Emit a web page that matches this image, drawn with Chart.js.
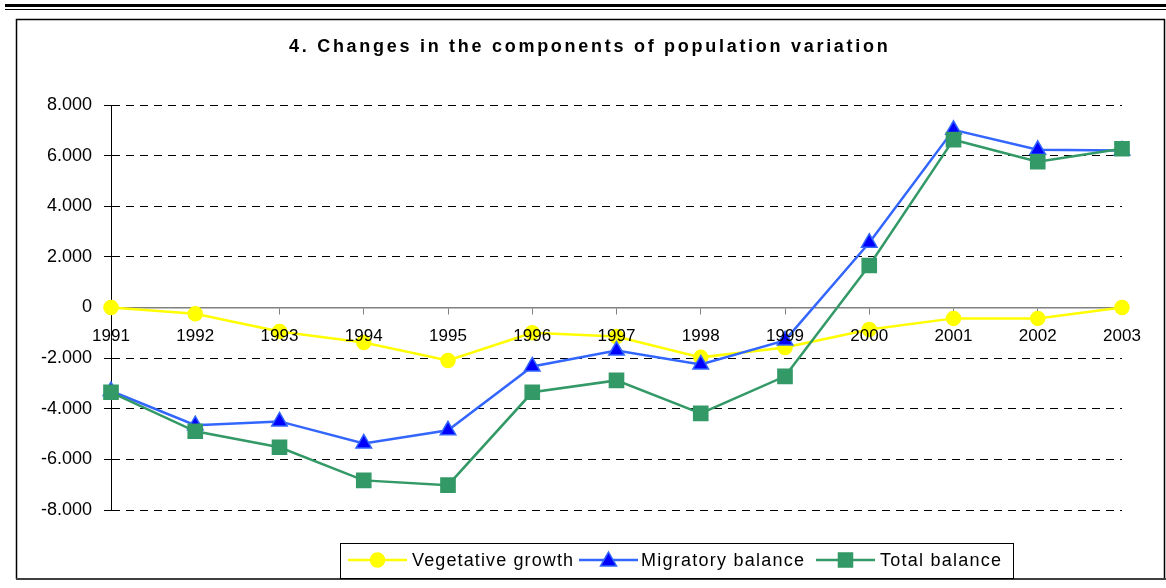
<!DOCTYPE html>
<html lang="en">
  <head>
    <meta charset="UTF-8" />
    <title>Changes in the components of population variation</title>
    <script src="https://cdn.jsdelivr.net/npm/chart.js@4.4.0/dist/chart.umd.min.js"></script>
    <style>
      html, body { margin: 0; padding: 0; background: #fff; }
      #wrap { width: 1166px; height: 588px; }
    </style>
  </head>
  <body>
    <div id="wrap"><canvas id="chart" width="1166" height="588"></canvas></div>

    <script>
      // data
      const years = ["1991", "1992", "1993", "1994", "1995", "1996", "1997", "1998", "1999", "2000", "2001", "2002", "2003"];
      const vegetativeGrowth = [0, -250, -950, -1380, -2090, -1000, -1150, -1970, -1580, -870, -430, -430, 0];
      const migratoryBalance = [-3300, -4650, -4500, -5370, -4850, -2330, -1700, -2250, -1300, 2560, 7020, 6230, 6200];
      const totalBalance = [-3350, -4890, -5520, -6830, -7020, -3350, -2880, -4180, -2720, 1660, 6630, 5760, 6270];
      const yTicks = [-8000, -6000, -4000, -2000, 0, 2000, 4000, 6000, 8000];

      const titleText = "4. Changes in the components of population variation";
      const FONT = '"Liberation Sans", Arial, sans-serif';

      const seriesStyle = [
        { label: "Vegetative growth", line: "#FFFF00", fill: "#FFFF00", shape: "circle" },
        { label: "Migratory balance", line: "#3366FF", fill: "#0000FF", shape: "triangle" },
        { label: "Total balance", line: "#339966", fill: "#339966", shape: "rect" },
      ];

      // format like 8.000 / -2.000
      function fmt(v) {
        if (v === 0) return "0";
        const s = Math.abs(v).toString().replace(/\B(?=(\d{3})+(?!\d))/g, ".");
        return (v < 0 ? "-" : "") + s;
      }

      function drawMarker(ctx, shape, x, y, fill, stroke) {
        ctx.save();
        ctx.fillStyle = fill;
        ctx.strokeStyle = stroke;
        ctx.lineWidth = 1.5;
        ctx.beginPath();
        if (shape === "circle") {
          ctx.arc(x, y, 7, 0, Math.PI * 2);
        } else if (shape === "triangle") {
          ctx.moveTo(x, y - 8);
          ctx.lineTo(x + 8, y + 6);
          ctx.lineTo(x - 8, y + 6);
          ctx.closePath();
        } else {
          ctx.rect(x - 7, y - 7, 14, 14);
        }
        ctx.fill();
        ctx.stroke();
        ctx.restore();
      }

      // draw text stretched to a given width
      function fitText(ctx, text, x, y, width) {
        ctx.letterSpacing = "0px";
        const w = ctx.measureText(text).width;
        ctx.letterSpacing = ((width - w) / (text.length - 1)).toFixed(2) + "px";
        ctx.fillText(text, x, y);
        ctx.letterSpacing = "0px";
      }

      // frame, top rules, title and legend
      const decorations = {
        id: "decorations",
        beforeDraw(chart) {
          const ctx = chart.ctx;
          ctx.save();
          ctx.fillStyle = "#fff";
          ctx.fillRect(0, 0, chart.width, chart.height);
          ctx.fillStyle = "#000";
          ctx.fillRect(5, 4, 1161, 3);
          ctx.fillRect(5, 9, 1161, 1);
          ctx.strokeStyle = "#000";
          ctx.lineWidth = 1.5;
          ctx.beginPath();
          ctx.moveTo(16.5, 579);
          ctx.lineTo(16.5, 19.5);
          ctx.lineTo(1164.5, 19.5);
          ctx.lineTo(1164.5, 579);
          ctx.stroke();
          ctx.fillStyle = "#404040";
          ctx.fillRect(16, 578, 1150, 2);

          ctx.fillStyle = "#000";
          ctx.font = "bold 18px " + FONT;
          ctx.textAlign = "left";
          ctx.textBaseline = "middle";
          fitText(ctx, titleText, 289, 47, 599);
          ctx.restore();
        },
        afterDraw(chart) {
          const ctx = chart.ctx;
          ctx.save();
          ctx.fillStyle = "#fff";
          ctx.fillRect(340, 543, 674, 35);
          ctx.strokeStyle = "#000";
          ctx.lineWidth = 1;
          ctx.strokeRect(340.5, 543.5, 673, 35);

          const items = [
            { x1: 348, x2: 407, text: 412, w: 161 },
            { x1: 579, x2: 638, text: 641, w: 163 },
            { x1: 816, x2: 875, text: 880, w: 121 },
          ];
          const cy = 560;
          ctx.font = "18px " + FONT;
          ctx.textBaseline = "middle";
          ctx.textAlign = "left";
          items.forEach((it, i) => {
            const s = seriesStyle[i];
            ctx.strokeStyle = s.line;
            ctx.lineWidth = 2.5;
            ctx.beginPath();
            ctx.moveTo(it.x1, cy);
            ctx.lineTo(it.x2, cy);
            ctx.stroke();
            drawMarker(ctx, s.shape, (it.x1 + it.x2) / 2, cy, s.fill, s.line);
            ctx.fillStyle = "#000";
            fitText(ctx, s.label, it.text, cy + 1, it.w);
          });
          ctx.restore();
        },
      };

      const seriesData = [vegetativeGrowth, migratoryBalance, totalBalance];

      const chart = new Chart(document.getElementById("chart").getContext("2d"), {
        type: "line",
        data: {
          labels: years,
          datasets: seriesData.map((d, i) => ({
            label: seriesStyle[i].label,
            data: d,
            borderColor: seriesStyle[i].line,
            backgroundColor: seriesStyle[i].fill,
            pointBackgroundColor: seriesStyle[i].fill,
            pointBorderColor: seriesStyle[i].line,
            pointBorderWidth: 1.5,
            pointStyle: seriesStyle[i].shape,
            pointRadius: seriesStyle[i].shape === "circle" ? 7 : seriesStyle[i].shape === "rect" ? 10 : 9,
            borderWidth: 2.5,
            tension: 0,
            fill: false,
            order: 2 - i,
          })),
        },
        options: {
          responsive: false,
          animation: false,
          layout: { padding: { top: 105, bottom: 78, left: 0, right: 44 } },
          plugins: {
            legend: { display: false },
            title: { display: false },
            tooltip: { enabled: false },
          },
          scales: {
            x: {
              position: { y: 0 },
              offset: false,
              grid: {
                drawOnChartArea: false,
                drawTicks: true,
                tickLength: 6,
                color: "#808080",
              },
              border: { display: true, color: "#808080", width: 1.5 },
              ticks: {
                z: 1,
                color: "#000",
                font: { size: 17, family: FONT },
                padding: 13,
                maxRotation: 0,
                autoSkip: false,
              },
            },
            y: {
              min: -8000,
              max: 8000,
              afterBuildTicks(scale) {
                scale.ticks = yTicks.map((v) => ({ value: v }));
              },
              afterFit(scale) {
                scale.width = 111;
              },
              grid: {
                color: (c) => (c.tick && c.tick.value === 0 ? "rgba(0,0,0,0)" : "#000"),
                tickColor: "#000",
                tickLength: 7,
                lineWidth: 1,
              },
              border: { display: true, color: "#000", width: 1, dash: [8, 6] },
              ticks: {
                color: "#000",
                font: { size: 18, family: FONT },
                padding: 12,
                callback: (v) => fmt(v),
              },
            },
          },
        },
        plugins: [decorations],
      });
    </script>
  </body>
</html>
